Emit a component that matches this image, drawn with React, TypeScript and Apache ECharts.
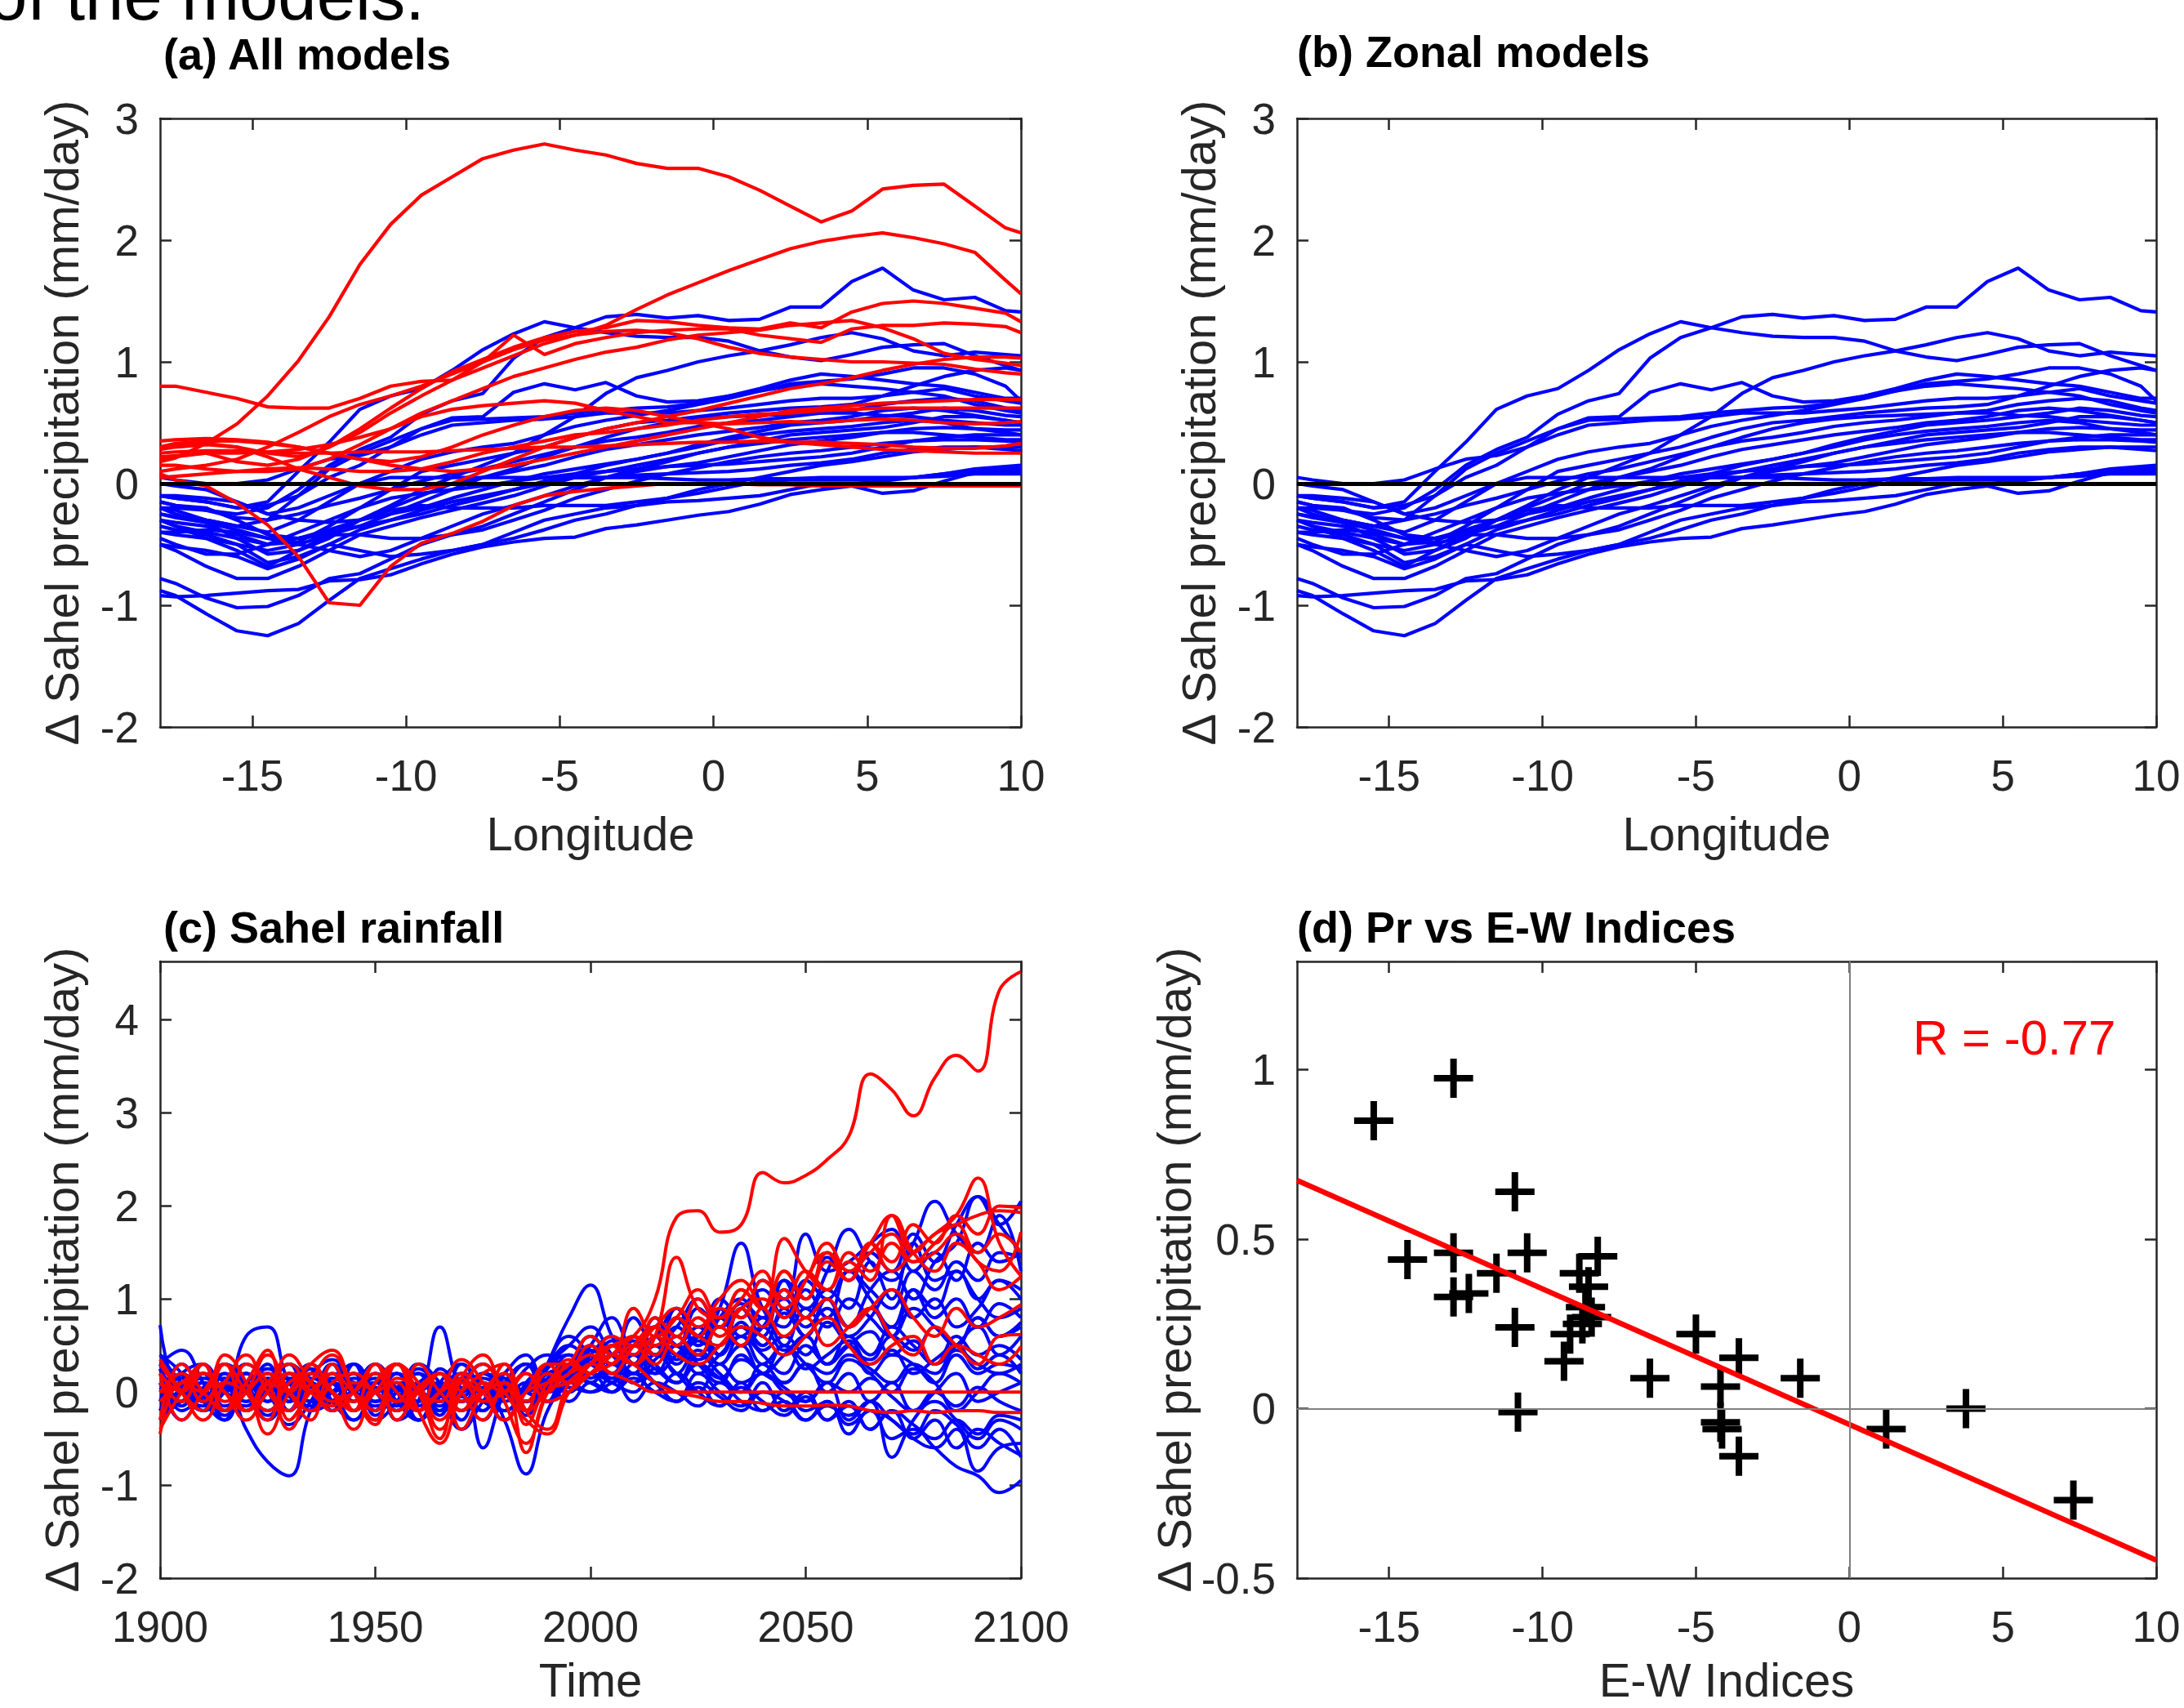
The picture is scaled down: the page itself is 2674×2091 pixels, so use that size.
import React, { useEffect, useRef } from "react";
import * as echarts from "echarts";

// ---------- Panel (a)/(b): longitude profiles ----------
const LON = [-18, -17.5, -16.5, -15.5, -14.5, -13.5, -12.5, -11.5, -10.5, -9.5, -8.5, -7.5, -6.5, -5.5, -4.5, -3.5, -2.5, -1.5, -0.5, 0.5, 1.5, 2.5, 3.5, 4.5, 5.5, 6.5, 7.5, 8.5, 9.5, 10];

const ZONAL_LON = [
  [-0.15,-0.18,-0.22,-0.25,-0.2,-0.05,0.15,0.28,0.38,0.57,0.68,0.74,1.03,1.2,1.28,1.37,1.39,1.36,1.38,1.34,1.35,1.45,1.45,1.66,1.77,1.59,1.51,1.53,1.42,1.41],
  [-0.1,-0.12,-0.15,-0.2,-0.15,0.1,0.34,0.61,0.72,0.78,0.93,1.1,1.23,1.33,1.28,1.24,1.21,1.2,1.2,1.17,1.09,1.04,1.01,1.06,1.12,1.14,1.15,1.05,0.97,0.93],
  [-0.3,-0.32,-0.35,-0.42,-0.5,-0.45,-0.38,-0.3,-0.18,-0.05,0.05,0.15,0.25,0.4,0.55,0.74,0.87,0.93,1.0,1.05,1.09,1.14,1.2,1.24,1.19,1.09,1.05,1.08,1.06,1.05],
  [-0.2,-0.22,-0.3,-0.35,-0.3,-0.1,0.12,0.25,0.35,0.45,0.54,0.55,0.75,0.82,0.77,0.83,0.72,0.67,0.68,0.72,0.76,0.8,0.82,0.8,0.78,0.75,0.78,0.72,0.68,0.66],
  [0.05,0.03,0.0,0.0,0.03,0.12,0.2,0.23,0.3,0.4,0.48,0.5,0.52,0.53,0.55,0.58,0.58,0.58,0.6,0.62,0.65,0.68,0.7,0.7,0.72,0.75,0.72,0.65,0.6,0.58],
  [-0.1,-0.12,-0.15,-0.2,-0.18,-0.1,0.05,0.15,0.3,0.45,0.52,0.53,0.54,0.55,0.58,0.6,0.62,0.63,0.66,0.72,0.78,0.85,0.9,0.88,0.85,0.82,0.8,0.75,0.7,0.7],
  [-0.25,-0.27,-0.3,-0.35,-0.4,-0.3,-0.15,0.0,0.1,0.2,0.26,0.3,0.33,0.4,0.47,0.52,0.56,0.6,0.65,0.7,0.76,0.82,0.84,0.86,0.9,0.95,0.95,0.9,0.8,0.68],
  [-0.3,-0.35,-0.4,-0.45,-0.5,-0.48,-0.35,-0.2,-0.05,0.1,0.15,0.2,0.25,0.3,0.38,0.45,0.5,0.52,0.55,0.58,0.6,0.62,0.63,0.65,0.72,0.8,0.88,0.93,0.95,0.93],
  [-0.4,-0.42,-0.45,-0.5,-0.55,-0.5,-0.42,-0.35,-0.25,-0.15,-0.05,0.05,0.12,0.22,0.3,0.35,0.38,0.42,0.47,0.5,0.52,0.55,0.58,0.6,0.65,0.68,0.7,0.68,0.62,0.6],
  [-0.2,-0.25,-0.32,-0.45,-0.58,-0.55,-0.45,-0.3,-0.2,-0.1,0.0,0.05,0.1,0.15,0.22,0.28,0.32,0.36,0.4,0.43,0.46,0.5,0.52,0.55,0.6,0.62,0.6,0.56,0.52,0.5],
  [-0.35,-0.38,-0.42,-0.5,-0.65,-0.6,-0.5,-0.38,-0.3,-0.22,-0.15,-0.1,-0.05,0.0,0.08,0.15,0.2,0.25,0.3,0.36,0.4,0.43,0.45,0.47,0.5,0.52,0.5,0.45,0.42,0.4],
  [-0.5,-0.55,-0.68,-0.78,-0.78,-0.68,-0.55,-0.42,-0.35,-0.28,-0.22,-0.16,-0.1,-0.02,0.05,0.1,0.15,0.2,0.25,0.3,0.33,0.36,0.38,0.4,0.42,0.42,0.4,0.38,0.36,0.36],
  [-0.88,-0.92,-1.07,-1.21,-1.25,-1.15,-0.96,-0.78,-0.7,-0.62,-0.55,-0.5,-0.45,-0.38,-0.3,-0.25,-0.18,-0.12,-0.05,0.0,0.05,0.1,0.15,0.18,0.22,0.26,0.28,0.3,0.3,0.3],
  [-0.78,-0.82,-0.94,-1.02,-1.01,-0.92,-0.78,-0.74,-0.62,-0.5,-0.42,-0.35,-0.25,-0.15,-0.05,0.05,0.1,0.14,0.17,0.22,0.27,0.32,0.35,0.38,0.42,0.45,0.46,0.45,0.44,0.44],
  [-0.92,-0.93,-0.92,-0.9,-0.88,-0.87,-0.8,-0.79,-0.75,-0.66,-0.58,-0.52,-0.48,-0.45,-0.44,-0.37,-0.34,-0.3,-0.26,-0.23,-0.17,-0.09,-0.05,-0.02,-0.08,-0.06,0.02,0.09,0.1,0.1],
  [-0.5,-0.52,-0.55,-0.6,-0.7,-0.62,-0.5,-0.55,-0.6,-0.58,-0.55,-0.5,-0.4,-0.3,-0.25,-0.2,-0.18,-0.15,-0.14,-0.12,-0.1,-0.05,0.0,0.0,0.02,0.05,0.08,0.12,0.14,0.15],
  [-0.3,-0.35,-0.45,-0.55,-0.68,-0.55,-0.42,-0.3,-0.22,-0.18,-0.2,-0.2,-0.2,-0.18,-0.18,-0.18,-0.15,-0.12,-0.08,-0.03,0.02,0.03,0.03,0.03,0.04,0.05,0.08,0.1,0.12,0.12],
  [0.0,-0.02,-0.05,-0.15,-0.25,-0.2,-0.1,0.0,0.05,0.05,0.05,0.05,0.05,0.05,0.05,0.05,0.07,0.08,0.09,0.1,0.12,0.15,0.17,0.2,0.25,0.28,0.3,0.3,0.28,0.27],
  [-0.15,-0.18,-0.2,-0.3,-0.42,-0.45,-0.4,-0.35,-0.3,-0.25,-0.18,-0.12,-0.05,0.02,0.05,0.05,0.05,0.04,0.03,0.03,0.04,0.04,0.05,0.05,0.05,0.05,0.06,0.08,0.08,0.08],
  [-0.25,-0.28,-0.32,-0.38,-0.45,-0.5,-0.55,-0.6,-0.55,-0.45,-0.35,-0.25,-0.18,-0.1,-0.02,0.05,0.12,0.18,0.25,0.3,0.35,0.4,0.42,0.44,0.46,0.5,0.55,0.55,0.52,0.5],
  [-0.4,-0.4,-0.38,-0.4,-0.45,-0.45,-0.42,-0.42,-0.45,-0.45,-0.42,-0.38,-0.3,-0.22,-0.12,-0.05,0.02,0.08,0.13,0.18,0.22,0.25,0.27,0.3,0.33,0.35,0.36,0.36,0.35,0.34],
  [-0.2,-0.2,-0.22,-0.28,-0.3,-0.25,-0.18,-0.12,-0.05,0.02,0.08,0.12,0.18,0.24,0.3,0.38,0.45,0.5,0.53,0.55,0.56,0.57,0.58,0.58,0.56,0.55,0.52,0.5,0.48,0.48],
  [-0.1,-0.1,-0.12,-0.15,-0.25,-0.3,-0.32,-0.3,-0.25,-0.2,-0.12,-0.05,0.02,0.08,0.12,0.16,0.2,0.25,0.32,0.38,0.43,0.48,0.5,0.52,0.55,0.58,0.62,0.6,0.56,0.55],
  [-0.45,-0.5,-0.58,-0.58,-0.5,-0.4,-0.3,-0.2,-0.12,-0.08,-0.05,-0.02,0.02,0.05,0.08,0.1,0.12,0.14,0.15,0.16,0.18,0.2,0.22,0.25,0.3,0.35,0.38,0.4,0.4,0.4],
];

const OTHER_LON = [
  [0.18,0.21,0.33,0.49,0.72,1.01,1.37,1.80,2.13,2.37,2.52,2.67,2.74,2.79,2.74,2.70,2.63,2.59,2.59,2.52,2.41,2.28,2.15,2.24,2.42,2.45,2.46,2.28,2.10,2.06],
  [0.2,0.22,0.25,0.18,0.15,0.2,0.3,0.42,0.58,0.72,0.85,0.95,1.05,1.15,1.22,1.3,1.43,1.55,1.65,1.75,1.84,1.93,1.99,2.03,2.06,2.02,1.97,1.9,1.67,1.56],
  [0.8,0.8,0.75,0.7,0.63,0.62,0.62,0.7,0.8,0.84,0.85,1.0,1.22,1.06,1.15,1.2,1.24,1.26,1.27,1.27,1.22,1.19,1.16,1.27,1.3,1.3,1.32,1.31,1.29,1.24],
  [0.28,0.3,0.32,0.3,0.25,0.22,0.3,0.45,0.62,0.78,0.92,1.02,1.12,1.2,1.25,1.28,1.34,1.33,1.3,1.28,1.27,1.32,1.28,1.41,1.48,1.5,1.48,1.44,1.4,1.33],
  [0.1,0.12,0.15,0.2,0.3,0.42,0.55,0.65,0.72,0.8,0.9,1.0,1.1,1.18,1.22,1.25,1.26,1.24,1.19,1.12,1.07,1.04,1.02,1.0,1.0,0.99,0.98,0.94,0.91,0.9],
  [0.15,0.15,0.12,0.1,0.1,0.12,0.2,0.32,0.45,0.58,0.68,0.78,0.88,0.95,1.02,1.08,1.12,1.18,1.22,1.24,1.26,1.3,1.32,1.34,1.28,1.19,1.07,1.02,0.99,0.97],
  [0.3,0.32,0.33,0.3,0.22,0.12,0.05,-0.02,-0.05,-0.05,0.0,0.1,0.2,0.3,0.38,0.45,0.5,0.55,0.6,0.66,0.72,0.78,0.82,0.87,0.93,0.98,1.02,1.04,1.04,1.03],
  [0.08,0.03,-0.02,-0.16,-0.34,-0.6,-0.98,-1.0,-0.68,-0.49,-0.41,-0.31,-0.18,-0.1,-0.065,-0.04,-0.02,0.0,0.0,0.0,-0.01,-0.01,-0.02,-0.02,-0.02,-0.02,-0.02,-0.02,-0.02,-0.02],
  [0.35,0.36,0.37,0.36,0.34,0.3,0.25,0.2,0.15,0.12,0.1,0.12,0.15,0.2,0.25,0.3,0.35,0.4,0.45,0.5,0.55,0.6,0.62,0.64,0.66,0.67,0.68,0.69,0.69,0.69],
  [0.22,0.23,0.25,0.25,0.26,0.28,0.32,0.38,0.45,0.55,0.61,0.64,0.66,0.68,0.66,0.6,0.55,0.5,0.5,0.49,0.5,0.51,0.5,0.52,0.53,0.52,0.5,0.49,0.5,0.51],
  [0.25,0.26,0.27,0.27,0.26,0.25,0.25,0.26,0.26,0.26,0.27,0.28,0.29,0.3,0.3,0.31,0.32,0.33,0.34,0.34,0.35,0.34,0.34,0.33,0.32,0.3,0.29,0.29,0.31,0.33],
  [0.3,0.33,0.35,0.35,0.33,0.3,0.25,0.2,0.18,0.22,0.3,0.4,0.48,0.55,0.6,0.62,0.6,0.55,0.5,0.45,0.38,0.34,0.32,0.3,0.28,0.27,0.26,0.25,0.25,0.25],
  [0.05,0.06,0.08,0.1,0.12,0.13,0.12,0.1,0.1,0.12,0.18,0.25,0.3,0.35,0.4,0.42,0.45,0.48,0.52,0.55,0.57,0.58,0.6,0.61,0.62,0.62,0.62,0.62,0.62,0.62],
];

// ---------- Panel (c): time series ----------
const YEARS = [1900,1905,1910,1915,1920,1925,1930,1935,1940,1945,1950,1955,1960,1965,1970,1975,1980,1985,1990,1995,2000,2005,2010,2015,2020,2025,2030,2035,2040,2045,2050,2055,2060,2065,2070,2075,2080,2085,2090,2095,2100];

const ZONAL_TS = [
  [0.72,0.05,0.1,-0.15,0.05,0.2,-0.1,0.15,0.0,-0.2, 0.1,0.05,-0.15,0.1,-0.05,0.2,0.0,-0.1,0.25,0.4, 0.3,0.55,0.4,0.7,0.5,0.9,0.7,0.95,0.8,1.2, 1.0,1.45,1.2,1.5,1.3,1.7,1.4,1.8,2.1,1.8, 1.5],
  [0.3,0.45,0.1,-0.3,0.2,0.0,-0.35,-0.1,0.3,0.05, -0.3,-0.1,0.25,0.0,-0.4,-0.1,0.2,0.4,0.05,0.3, 0.45,0.3,0.6,0.4,0.8,0.5,0.9,1.6,0.9,0.7, 1.1,0.8,1.3,1.0,0.7,1.1,0.9,1.3,1.0,0.8, 0.9],
  [0.2,0.0,-0.15,0.1,-0.4,-0.75,-0.9,-0.2,0.1,-0.1, 0.05,-0.2,0.0,-0.15,0.1,-0.1,-0.2,0.0,0.05,-0.1, 0.1,0.0,0.2,0.1,-0.1,0.05,-0.15,0.1,-0.2,-0.1, -0.3,-0.1,-0.35,-0.2,-0.5,-0.4,-0.6,-0.8,-0.9,-1.08, -0.95],
  [-0.1,0.2,0.3,0.0,0.6,0.7,0.1,-0.1,0.2,0.1, -0.15,0.0,0.2,-0.05,0.1,-0.1,0.05,-0.2,0.3,0.8, 1.15,0.6,0.3,0.5,0.2,0.45,0.3,0.6,0.4,0.2, 0.5,0.3,0.6,0.4,0.7,0.5,0.3,0.6,0.4,0.5, 0.35],
  [0.1,-0.1,0.05,0.15,-0.1,0.0,0.2,0.1,-0.2,0.0, 0.15,-0.3,-0.1,0.7,0.0,-0.2,0.1,0.0,-0.1,0.2, 0.35,0.1,0.4,0.2,0.5,0.3,0.1,0.4,0.2,0.5, 0.3,0.1,0.35,0.2,0.0,0.25,0.1,-0.2,0.0,0.2, 0.1],
  [-0.2,0.1,0.0,-0.25,0.05,0.15,-0.1,0.0,0.1,-0.2, 0.0,0.1,-0.1,0.05,-0.2,0.1,-0.3,-0.88,-0.2,0.1, 0.2,0.0,0.3,0.1,-0.1,0.2,0.0,-0.15,0.1,-0.2, 0.0,-0.3,-0.1,-0.4,-0.2,-0.5,-0.3,-0.6,-0.4,-0.55, -0.68],
  [0.4,0.2,-0.2,0.2,0.0,-0.3,0.0,0.25,-0.2,0.05, 0.3,0.0,-0.3,-0.05,0.2,-0.6,0.0,0.3,-0.1,0.3, 0.1,0.3,0.1,0.4,0.2,0.0,0.3,0.1,0.2,0.0, -0.1,0.1,-0.3,-0.1,-0.7,-0.3,-0.1,-0.3,-0.5,-0.3, -0.4],
  [0.0,0.1,-0.2,0.05,0.2,-0.1,0.1,0.0,-0.2,0.1, 0.0,0.2,-0.1,0.0,0.15,-0.1,0.1,0.0,0.2,0.1, 0.4,0.3,0.6,0.4,0.9,0.6,1.0,0.8,1.2,1.0, 1.7,1.3,1.4,1.6,1.75,1.3,1.5,1.2,1.6,1.4, 1.5],
  [-0.1,0.0,0.2,0.0,-0.15,0.1,0.0,0.25,0.1,-0.1, 0.1,0.0,-0.2,0.1,0.0,0.2,0.1,-0.1,0.15,0.3, 0.2,0.5,0.3,0.7,0.5,0.4,0.8,1.0,0.7,1.1, 0.9,1.3,1.75,1.4,1.2,1.6,2.05,1.7,1.5,1.9, 1.3],
  [0.3,-0.1,0.2,-0.2,0.0,0.3,-0.2,0.1,-0.1,0.3, -0.2,0.1,0.0,-0.25,0.3,0.0,-0.3,0.1,0.3,0.5, 0.7,0.4,0.2,0.5,0.3,0.6,0.4,0.7,0.5,0.9, 0.6,1.0,0.7,1.1,1.3,1.0,1.4,1.6,2.1,1.8, 2.05],
  [-0.3,-0.1,0.0,-0.2,0.1,-0.1,0.0,-0.2,-0.1,0.1, 0.0,-0.2,0.0,-0.1,0.1,-0.2,0.0,-0.1,0.0,0.1, 0.0,0.15,-0.1,0.1,0.0,-0.15,0.1,-0.1,-0.2,0.0, -0.2,-0.1,-0.45,-0.2,-0.3,-0.5,-0.6,-0.4,-0.85,-0.6, -0.55],
  [0.1,-0.3,0.0,0.2,-0.2,0.05,0.3,-0.2,0.0,0.2, -0.25,0.0,0.2,-0.2,0.05,0.0,0.2,-0.25,0.05,0.25, 0.5,0.3,0.55,0.4,0.6,0.35,0.5,0.7,0.45,0.6, 0.4,0.75,0.5,0.35,0.6,0.45,0.7,0.5,0.8,0.6, 0.75],
  [-0.1,0.1,-0.05,-0.2,0.0,0.1,-0.05,-0.15,0.1,0.0, -0.1,0.1,0.0,-0.2,0.0,0.1,-0.1,0.0,0.1,0.0, 0.2,0.1,0.0,0.25,0.1,0.3,0.15,0.35,0.2,0.1, 0.3,0.2,0.4,0.25,0.1,0.3,0.2,0.45,0.3,0.2, 0.3],
  [0.4,0.1,-0.1,0.3,0.05,-0.2,0.1,0.3,-0.1,-0.3, 0.1,0.2,-0.2,0.0,-0.3,0.1,0.0,0.25,0.4,0.2, 0.5,0.8,0.5,0.6,0.9,0.6,0.8,0.5,0.7,1.0, 0.7,0.9,0.6,0.8,1.1,0.8,1.0,0.7,0.9,1.2, 1.0],
  [-0.2,0.0,0.15,0.0,-0.1,0.1,0.0,-0.1,0.15,0.0, -0.1,0.05,0.2,0.0,-0.1,0.05,-0.05,0.1,0.0,0.15, 0.3,0.15,0.4,0.25,0.1,0.3,0.15,0.0,0.2,0.05, -0.1,0.1,0.0,0.15,-0.05,-0.2,0.0,-0.15,0.05,-0.1, -0.2],
  [0.25,-0.2,0.0,0.3,0.1,-0.25,0.0,0.2,0.35,0.0, -0.2,0.1,-0.3,0.1,0.3,0.0,-0.2,0.05,0.3,0.5, 0.3,0.2,0.5,0.7,0.4,0.6,0.8,0.5,0.7,0.45, 0.6,0.3,0.5,0.65,0.4,0.55,0.3,0.5,0.7,0.4, 0.6],
  [0.0,0.15,-0.1,0.0,0.2,0.0,-0.2,0.05,0.0,0.15, 0.0,-0.15,0.1,0.0,-0.05,0.15,0.0,-0.1,0.1,0.3, 0.15,0.3,0.1,0.35,0.5,0.2,0.4,0.6,0.3,0.5, 0.25,0.4,0.55,0.3,0.45,0.2,0.35,0.5,0.25,0.4, 0.2],
  [-0.2,0.05,0.3,-0.2,0.0,0.25,0.0,-0.2,0.3,-0.1, 0.2,0.0,-0.2,0.25,0.0,-0.3,0.1,0.3,0.0,0.2, 0.1,0.4,0.2,0.6,0.35,0.55,0.4,0.75,0.5,0.85, 0.6,1.0,0.7,0.9,0.6,1.1,0.8,1.0,0.7,0.95, 0.8],
  [0.05,-0.15,0.1,0.0,-0.2,0.05,0.15,0.0,-0.1,0.1, 0.0,0.2,0.0,-0.1,0.1,-0.1,0.05,0.0,-0.1,0.05, 0.0,0.1,0.2,0.0,0.2,0.0,-0.15,0.05,-0.1,-0.25, -0.05,-0.3,-0.15,-0.4,-0.2,-0.35,-0.5,-0.3,-0.45,-0.25, -0.3],
  [-0.2,0.0,-0.1,0.1,0.0,-0.2,0.0,0.1,-0.1,0.0, 0.1,-0.1,0.0,0.1,-0.1,0.0,0.15,0.0,0.2,0.3, 0.6,0.4,0.8,0.5,0.7,1.0,0.7,0.9,1.1,0.8, 1.2,1.0,1.3,1.1,0.9,1.3,1.1,1.4,1.2,1.5, 1.45],
  [0.1,0.0,-0.1,0.1,0.2,0.0,0.1,-0.1,0.0,0.2, 0.0,-0.1,0.0,0.2,-0.1,0.0,0.1,-0.1,0.05,0.2, 0.1,0.0,0.15,0.0,-0.1,0.1,-0.05,-0.2,0.0,-0.1, -0.3,-0.15,-0.25,-0.1,-0.3,-0.45,-0.2,-0.35,-0.6,-0.4, -0.7],
  [0.0,0.2,-0.1,-0.3,0.1,0.2,0.0,-0.2,0.1,0.3, 0.0,-0.2,0.1,0.2,-0.1,0.0,0.2,-0.1,0.1,0.4, 0.2,0.5,0.3,0.2,0.4,0.6,0.3,0.5,0.2,0.4, 0.6,0.3,0.5,0.2,0.4,0.3,0.1,0.4,0.2,0.3, 0.25],
  [-0.3,0.0,0.2,0.1,-0.2,0.0,0.3,0.1,-0.1,0.0, 0.2,-0.1,-0.3,0.0,0.2,0.1,-0.2,0.0,0.2,0.1, 0.4,0.6,0.3,0.8,0.5,0.7,0.4,0.9,0.6,1.2, 0.8,1.1,0.9,1.4,1.0,1.6,1.2,1.3,1.0,1.2, 1.1],
  [0.2,0.0,-0.2,0.0,0.3,0.1,-0.1,0.2,0.0,-0.3, 0.1,0.3,0.0,-0.1,0.1,0.3,0.0,-0.2,0.3,0.6, 0.4,0.2,0.5,0.3,0.1,0.4,0.2,0.0,0.3,0.1, 0.3,0.0,0.2,-0.1,0.1,-0.2,0.0,0.2,-0.1,0.0, 0.1],
  [-0.1,0.3,0.0,-0.2,0.1,0.0,0.2,-0.2,0.1,0.2, -0.1,0.0,0.3,0.1,-0.2,0.0,0.1,0.3,0.1,0.0, 0.3,0.2,0.6,0.4,0.7,0.5,0.9,0.6,0.8,0.5, 0.9,0.7,1.0,0.8,0.6,0.9,0.7,0.5,0.8,0.6, 0.7],
];

const OTHER_TS = [
  [0.1,-0.1,0.2,0.0,-0.2,0.1,0.3,0.0,-0.15,0.1, 0.0,-0.2,0.05,0.2,-0.1,0.0,0.1,-0.2,0.0,0.2, 0.3,0.5,0.6,1.0,1.88,1.95,1.72,1.8,2.36,2.25, 2.33,2.5,2.75,3.42,3.25,2.97,3.38,3.62,3.45,4.32, 4.52],
  [-0.45,0.1,0.0,0.4,0.1,-0.45,0.0,0.3,0.45,0.0, -0.35,0.15,0.0,-0.4,0.15,0.4,-0.1,-0.55,0.0,0.35, 0.2,0.5,0.4,0.8,0.6,1.0,0.7,1.1,0.9,1.3, 1.0,1.4,1.2,1.6,1.3,1.5,1.7,1.9,2.3,1.6, 1.25],
  [0.35,0.0,-0.3,0.1,0.4,0.0,-0.2,0.3,0.0,-0.4, 0.1,0.3,-0.2,0.0,0.35,0.1,-0.3,0.0,0.3,0.1, 0.3,0.5,0.3,0.6,1.45,0.9,0.8,1.1,0.9,1.3, 1.0,1.5,1.2,1.6,1.4,1.8,1.6,1.9,1.7,2.0, 1.98],
  [-0.3,0.3,0.0,-0.2,0.3,0.1,-0.4,0.1,0.4,0.0, -0.3,0.3,0.0,-0.5,0.15,0.0,0.3,-0.2,-0.4,0.1, 0.3,0.6,0.5,0.7,0.9,0.7,1.0,1.2,0.9,1.65, 1.3,1.1,1.4,1.2,1.9,1.5,1.7,1.8,1.9,1.95, 1.93],
  [0.0,0.1,0.3,-0.1,0.0,0.2,0.0,-0.2,0.1,0.2, 0.0,-0.1,0.3,0.0,-0.2,0.1,0.0,0.2,-0.1,0.0, 0.2,0.4,0.6,0.5,0.8,0.6,0.9,0.8,1.2,1.0, 1.3,1.1,1.5,1.3,1.6,1.4,1.5,1.7,1.4,1.3, 1.72],
  [0.2,-0.3,0.0,0.3,-0.2,0.0,0.4,0.1,-0.2,0.0, 0.3,-0.3,0.0,0.2,-0.4,0.0,0.2,-0.2,0.3,0.3, 0.4,0.2,0.5,0.7,0.5,0.8,0.6,0.9,1.0,0.8, 1.2,1.5,1.3,1.6,1.9,1.5,1.3,1.6,1.4,1.1, 1.24],
  [-0.1,0.1,0.2,0.0,-0.2,0.1,0.0,0.3,0.0,-0.2, 0.1,0.3,0.0,-0.1,0.2,0.0,-0.3,0.0,0.1,0.2, 0.5,0.3,0.6,0.4,0.8,0.6,0.5,0.9,0.7,1.1, 0.8,1.0,0.7,0.9,1.1,0.8,0.6,0.9,0.7,0.8, 0.94],
  [0.3,0.0,-0.2,0.3,0.0,-0.3,0.2,0.0,0.3,-0.2, 0.0,0.3,-0.2,-0.55,0.0,0.3,0.0,-0.3,-0.45,0.0, 0.2,0.3,0.5,0.3,0.6,0.4,0.7,0.5,0.9,0.6, 0.8,0.5,0.7,0.9,0.6,0.4,0.7,0.5,0.3,0.6, 0.62],
  [-0.4,0.0,0.3,-0.2,0.1,0.45,-0.3,0.0,0.2,-0.2, 0.3,0.0,-0.2,0.2,0.0,-0.3,0.1,-0.65,0.0,0.1, 0.2,0.4,0.3,0.6,0.4,0.3,0.5,0.7,0.6,0.4, 0.6,0.8,0.5,0.3,0.5,0.6,0.3,0.5,0.4,0.3, 0.49],
  [0.1,-0.1,0.2,0.0,-0.3,0.0,0.2,0.1,-0.1,0.0, 0.2,-0.1,0.0,0.2,-0.2,0.0,0.1,-0.1,0.2,0.1, 0.3,0.2,0.1,0.0,0,0,0,0,0,0, 0,0,0,0,0,0,0,0,0,0, 0],
  [0.0,0.2,-0.1,0.1,0.0,-0.2,0.1,0.2,0.0,-0.1, 0.0,0.1,-0.2,0.0,0.1,-0.1,0.0,0.2,0.0,0.3, 0.2,0.4,0.3,0.1,0.0,-0.05,-0.1,-0.1,-0.12,-0.15, -0.15,-0.14,-0.15,-0.2,-0.22,-0.2,-0.22,-0.2,-0.2,-0.22, -0.22],
  [0.2,0.0,0.3,-0.2,0.0,0.4,0.0,-0.3,0.2,0.0, -0.2,0.3,0.1,-0.3,0.0,0.2,0.3,-0.35,0.1,0.3, 0.6,0.4,0.9,0.6,0.8,1.1,0.8,1.0,1.3,0.9, 1.2,1.6,1.3,1.5,1.7,1.4,1.6,1.8,1.5,1.7, 1.5],
];

// ---------- Panel (d): scatter ----------
const EW_INDEX = [-15.5,-12.9,-10.9,-14.4,-12.9,-10.5,-11.5,-12.9,-12.4,-10.9,-10.8,-8.8,-8.2,-8.5,-8.4,-8.7,-9.1,-9.3,-8.6,-6.5,-5.0,-3.6,-4.2,-4.2,-4.15,-3.6,-1.6,1.2,3.8,7.3];
const PR_CHANGE = [0.85,0.975,0.64,0.44,0.46,0.46,0.40,0.33,0.34,0.24,-0.01,0.40,0.45,0.36,0.27,0.25,0.22,0.14,0.30,0.09,0.22,0.15,0.065,-0.04,-0.06,-0.14,0.09,-0.06,0.0,-0.27];
const FIT_X = [-18, 10];
const FIT_Y = [0.674, -0.447];
const R_LABEL = "R = -0.77";

// ---------- tick labels ----------
const LON_TICKS = [-15, -10, -5, 0, 5, 10];
const PR_TICKS = [-2, -1, 0, 1, 2, 3];
const TS_X_TICKS = [1900, 1950, 2000, 2050, 2100];
const TS_Y_TICKS = [-2, -1, 0, 1, 2, 3, 4];
const SC_Y_TICKS = [-0.5, 0, 0.5, 1];

const TITLES = ["(a) All models", "(b) Zonal models", "(c) Sahel rainfall", "(d) Pr vs E-W Indices"];
const Y_NAME = "\u0394 Sahel precipitation (mm/day)";

const FONT = '"Liberation Sans", Arial, Helvetica, sans-serif';
const AX = "#262626";
const BLUE = "#0000ff";
const RED = "#ff0000";

const GRIDS = [
  { left: 196, top: 145, width: 1054, height: 745 },
  { left: 1588, top: 145, width: 1052, height: 745 },
  { left: 196, top: 1177, width: 1054, height: 755 },
  { left: 1588, top: 1177, width: 1052, height: 755 },
];

const fmt = (v: number) => String(v);

function xAxis(gridIndex: number, min: number, max: number, ticks: number[], name: string, main: boolean, gap: number) {
  return {
    type: "value",
    gridIndex,
    min,
    max,
    position: main ? "bottom" : "top",
    name: main ? name : "",
    nameLocation: "middle",
    nameGap: gap,
    nameTextStyle: { fontSize: 58, fontFamily: FONT, color: AX },
    axisLine: { show: true, onZero: false, lineStyle: { color: AX, width: 2.5 } },
    axisTick: { show: true, inside: true, length: 14, customValues: ticks, lineStyle: { color: AX, width: 2.5 } },
    axisLabel: { show: main, customValues: ticks, margin: 33, fontSize: 53, fontFamily: FONT, color: AX, formatter: fmt },
    splitLine: { show: false },
  };
}

function yAxis(gridIndex: number, min: number, max: number, ticks: number[], main: boolean, gap: number) {
  return {
    type: "value",
    gridIndex,
    min,
    max,
    position: main ? "left" : "right",
    name: main ? Y_NAME : "",
    nameLocation: "middle",
    nameRotate: 90,
    nameGap: gap,
    nameTextStyle: { fontSize: 58, fontFamily: FONT, color: AX },
    axisLine: { show: true, onZero: false, lineStyle: { color: AX, width: 2.5 } },
    axisTick: { show: true, inside: true, length: 14, customValues: ticks, lineStyle: { color: AX, width: 2.5 } },
    axisLabel: { show: main, customValues: ticks, margin: 26, fontSize: 53, fontFamily: FONT, color: AX, formatter: fmt },
    splitLine: { show: false },
  };
}

function lines(set: number[][], xs: number[], color: string, axisIndex: number, smooth: boolean, z: number, width: number) {
  return set.map((vals) => ({
    type: "line",
    xAxisIndex: axisIndex,
    yAxisIndex: axisIndex,
    data: xs.map((x, i) => [x, vals[i]]),
    symbol: "none",
    showSymbol: false,
    smooth: smooth ? 0.45 : false,
    lineStyle: { color, width },
    silent: true,
    z,
  }));
}

function zeroLine(axisIndex: number) {
  return {
    type: "line",
    xAxisIndex: axisIndex,
    yAxisIndex: axisIndex,
    data: [],
    symbol: "none",
    silent: true,
    z: 6,
    markLine: {
      silent: true,
      symbol: ["none", "none"],
      label: { show: false },
      lineStyle: { color: "#000000", width: 5, type: "solid" },
      data: [{ yAxis: 0 }],
    },
  };
}

const PLUS = "path://M20,0H28V20H48V28H28V48H20V28H0V20H20Z";

function buildOption() {
  const series: any[] = [
    ...lines(ZONAL_LON, LON, BLUE, 0, false, 2, 4.2),
    ...lines(OTHER_LON, LON, RED, 0, false, 3, 4.2),
    zeroLine(0),
    ...lines(ZONAL_LON, LON, BLUE, 1, false, 2, 4.2),
    zeroLine(1),
    ...lines(ZONAL_TS, YEARS, BLUE, 2, true, 2, 4),
    ...lines(OTHER_TS, YEARS, RED, 2, true, 3, 4),
    {
      type: "scatter",
      xAxisIndex: 3,
      yAxisIndex: 3,
      data: EW_INDEX.map((x, i) => [x, PR_CHANGE[i]]),
      symbol: PLUS,
      symbolSize: 48,
      itemStyle: { color: "#000000", opacity: 1 },
      silent: true,
      z: 3,
      markLine: {
        silent: true,
        symbol: ["none", "none"],
        label: { show: false },
        lineStyle: { color: "#808080", width: 2, type: "solid" },
        data: [{ xAxis: 0 }, { yAxis: 0 }],
      },
    },
    {
      type: "line",
      xAxisIndex: 3,
      yAxisIndex: 3,
      data: FIT_X.map((x, i) => [x, FIT_Y[i]]),
      symbol: "none",
      lineStyle: { color: RED, width: 6.5 },
      silent: true,
      z: 4,
    },
  ];

  const titlePos = [
    [200, 66],
    [1588, 63],
    [200, 1135],
    [1588, 1135],
  ];

  const graphic: any[] = [
    {
      type: "text",
      x: -14,
      y: -6,
      style: { text: "of the models.", fontSize: 85, fontFamily: FONT, fill: "#000", align: "left", verticalAlign: "middle" },
    },
    ...TITLES.map((t, i) => ({
      type: "text",
      x: titlePos[i][0],
      y: titlePos[i][1],
      style: { text: t, fontSize: 54, fontWeight: "bold", fontFamily: FONT, fill: "#000", align: "left", verticalAlign: "middle" },
    })),
    {
      type: "text",
      x: 2342,
      y: 1270,
      style: { text: R_LABEL, fontSize: 60, fontFamily: FONT, fill: RED, align: "left", verticalAlign: "middle" },
    },
  ];

  return {
    animation: false,
    backgroundColor: "#ffffff",
    grid: GRIDS,
    xAxis: [
      xAxis(0, -18, 10, LON_TICKS, "Longitude", true, 101),
      xAxis(1, -18, 10, LON_TICKS, "Longitude", true, 101),
      xAxis(2, 1900, 2100, TS_X_TICKS, "Time", true, 95),
      xAxis(3, -18, 10, LON_TICKS, "E-W Indices", true, 95),
      xAxis(0, -18, 10, LON_TICKS, "", false, 0),
      xAxis(1, -18, 10, LON_TICKS, "", false, 0),
      xAxis(2, 1900, 2100, TS_X_TICKS, "", false, 0),
      xAxis(3, -18, 10, LON_TICKS, "", false, 0),
    ],
    yAxis: [
      yAxis(0, -2, 3, PR_TICKS, true, 92),
      yAxis(1, -2, 3, PR_TICKS, true, 92),
      yAxis(2, -2, 4.63, TS_Y_TICKS, true, 92),
      yAxis(3, -0.5, 1.32, SC_Y_TICKS, true, 106),
      yAxis(0, -2, 3, PR_TICKS, false, 0),
      yAxis(1, -2, 3, PR_TICKS, false, 0),
      yAxis(2, -2, 4.63, TS_Y_TICKS, false, 0),
      yAxis(3, -0.5, 1.32, SC_Y_TICKS, false, 0),
    ],
    series,
    graphic,
  };
}

export default function App() {
  const ref = useRef<HTMLDivElement>(null);
  useEffect(() => {
    document.body.style.margin = "0";
    if (!ref.current) return;
    const chart = echarts.init(ref.current, undefined, { renderer: "svg", width: 2674, height: 2091 });
    chart.setOption(buildOption() as any);
    return () => chart.dispose();
  }, []);
  return <div ref={ref} style={{ width: 2674, height: 2091 }} />;
}
